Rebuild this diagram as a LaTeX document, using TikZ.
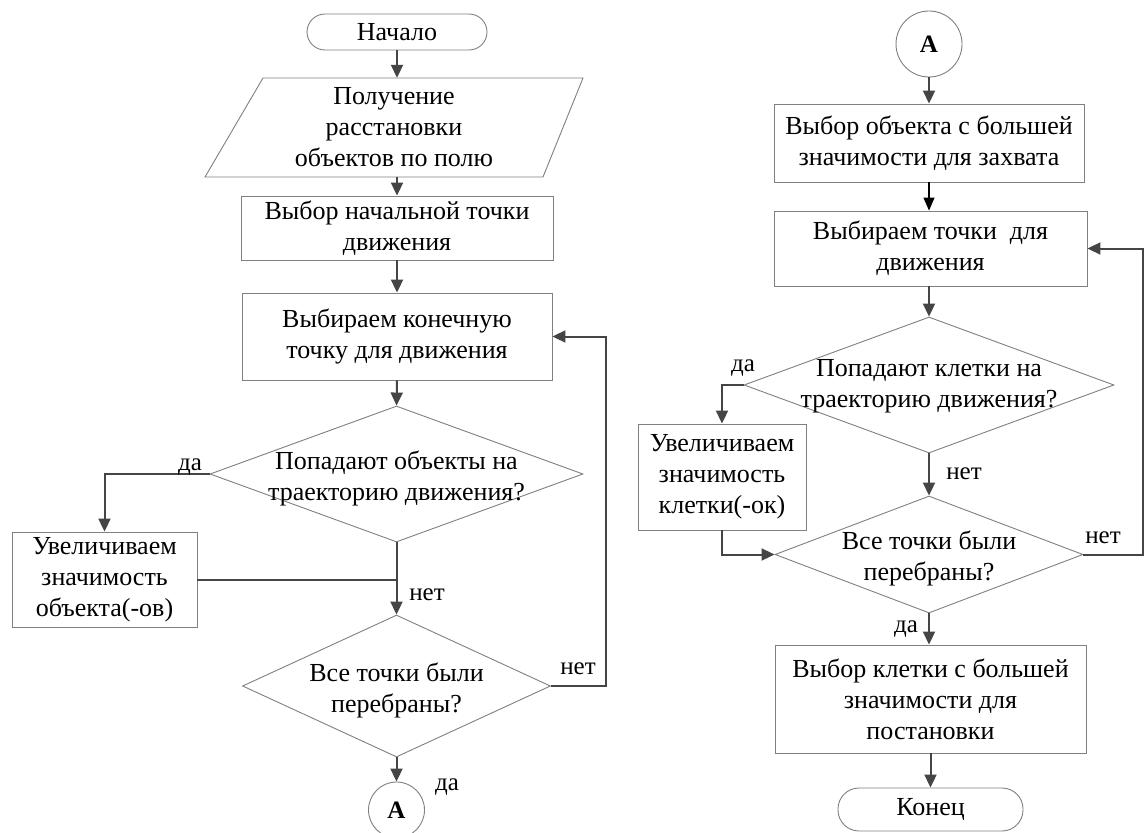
\documentclass[tikz,border=0pt]{standalone}
\usepackage{fontspec}
\setmainfont{Liberation Serif}
\usetikzlibrary{arrows.meta,shapes.geometric}
\definecolor{lc}{HTML}{454545}
\definecolor{bc}{HTML}{808080}
\begin{document}
\begin{tikzpicture}[x=1pt,y=-1pt,
  every node/.style={font=\fontsize{26}{31}\selectfont, align=center, inner sep=0pt},
  box/.style={draw=bc, line width=0.9pt, rectangle},
  term/.style={draw=bc, line width=0.9pt, rectangle, rounded corners=18pt},
  dia/.style={draw=bc, line width=0.9pt, diamond},
  dtext/.style={align=center, yshift=-4pt},
  conn/.style={draw=bc, line width=0.9pt, circle, font=\fontsize{25}{30}\selectfont\bfseries},
  flow/.style={draw=lc, line width=2pt, -{Triangle[length=13pt,width=12pt]}},
  line/.style={draw=lc, line width=2pt},
  thin/.style={draw=black, line width=1.2pt, -{Triangle[length=13pt,width=11pt]}},
  lab/.style={font=\fontsize{25}{28}\selectfont}
]
\useasboundingbox (0,0) rectangle (1145,832);
\fill[white] (0,0) rectangle (1145,832);

% ---------- left column ----------
\node[term, minimum width=180pt, minimum height=36pt] (start) at (397,32) {Начало};
\node[minimum width=300pt, minimum height=99pt] (io) at (394,127.5) {Получение\\расстановки\\объектов по полю};
\draw[draw=bc, line width=0.9pt] (263,78) -- (583,78) -- (543,177) -- (205,177) -- cycle;
\node[box, minimum width=312pt, minimum height=64pt] (b2) at (397,228) {Выбор начальной точки\\движения};
\node[box, minimum width=310pt, minimum height=87pt] (b3) at (397,336.5) {Выбираем конечную\\точку для движения};
\node[dia, minimum width=373pt, minimum height=136pt,
      label={[dtext]center:Попадают объекты на\\траекторию движения?}] (d1) at (396.5,474) {};
\node[box, minimum width=185pt, minimum height=95pt] (inc1) at (104.5,579.5) {Увеличиваем\\значимость\\объекта(-ов)};
\node[dia, minimum width=308pt, minimum height=142pt,
      label={[dtext]center:Все точки были\\перебраны?}] (d2) at (396.5,686) {};
\node[conn, minimum size=56pt] (A1) at (396.5,810) {A};

\draw[flow] (start.south) -- (start.south |- io.north);
\draw[flow] (start.south |- io.south) -- (b2.north);
\draw[flow] (b2.south) -- (b3.north);
\draw[flow] (b3.south) -- (d1.north);
\draw[flow] (d1.west) -| (inc1.north);
\draw[line] (inc1.east) -- (inc1.east -| d1.south);
\draw[flow] (d1.south) -- (d2.north);
\draw[flow] (d2.east) -- ++(55,0) |- (b3.east);
\draw[flow] (d2.south) -- (A1.north);

\node[lab] (l1) at (190,467) {да};
\node[lab] (l2) at (427,595) {нет};
\node[lab] (l3) at (578,669) {нет};
\node[lab] (l4) at (447,787) {да};

% ---------- right column ----------
\node[conn, minimum size=66pt] (A2) at (929,44) {A};
\node[box, minimum width=310pt, minimum height=78pt] (r1) at (929,143) {Выбор объекта с большей\\значимости для захвата};
\node[box, minimum width=313pt, minimum height=75pt] (r2) at (930.5,248.5) {Выбираем точки\ \ для\\движения};
\node[dia, minimum width=370pt, minimum height=136pt,
      label={[align=center, yshift=-1pt]center:Попадают клетки на\\траекторию движения?}] (rd1) at (929,385) {};
\node[box, minimum width=168pt, minimum height=106pt] (inc2) at (722,477) {Увеличиваем\\значимость\\клетки(-ок)};
\node[dia, minimum width=308pt, minimum height=117pt,
      label={[dtext]center:Все точки были\\перебраны?}] (rd2) at (929,554.5) {};
\node[box, minimum width=311pt, minimum height=108pt] (r3) at (930.5,699) {Выбор клетки с большей\\значимости для\\постановки};
\node[term, minimum width=185pt, minimum height=43pt, rounded corners=21pt] (fin) at (930.5,809.5) {Конец};

\draw[flow] (A2.south) -- (r1.north);
\draw[thin] (r1.south) -- (r1.south |- r2.north);
\draw[flow] (rd1.north |- r2.south) -- (rd1.north);
\draw[flow] (rd1.west) -| (inc2.north);
\draw[flow] (rd1.south) -- (rd2.north);
\draw[flow] (inc2.south) |- (rd2.west);
\draw[flow] (rd2.east) -- ++(60,0) |- (r2.east);
\draw[flow] (rd2.south) -- (rd2.south |- r3.north);
\draw[flow] (fin.north |- r3.south) -- (fin.north);

\node[lab] (l5) at (743,368) {да};
\node[lab] (l6) at (964,474) {нет};
\node[lab] (l7) at (1103,538) {нет};
\node[lab] (l8) at (906,629) {да};
\end{tikzpicture}
\end{document}
